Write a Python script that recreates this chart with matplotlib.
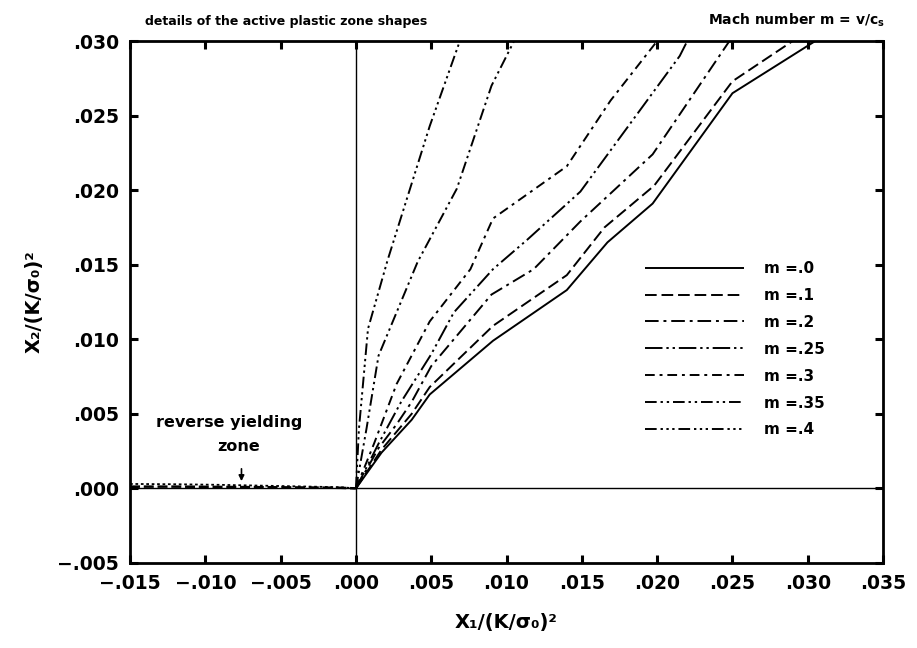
import matplotlib
matplotlib.use("Agg")
import matplotlib.pyplot as plt
from matplotlib.ticker import FixedLocator, FuncFormatter

# Plastic zone boundaries X2 vs X1 (normalised by (K/sigma0)^2) for each Mach number
m0_x = [0, 0.0017, 0.0027, 0.0037, 0.0049, 0.0091, 0.0140, 0.0167, 0.0197, 0.0250, 0.0305]
m0_y = [0, 0.0024, 0.0035, 0.0046, 0.0063, 0.0099, 0.0133, 0.0165, 0.0191, 0.0265, 0.0300]

m1_x = [0, 0.0017, 0.0027, 0.0037, 0.0049, 0.0091, 0.0140, 0.0165, 0.0198, 0.0250, 0.0290]
m1_y = [0, 0.0026, 0.0038, 0.0050, 0.0068, 0.0109, 0.0143, 0.0175, 0.0203, 0.0273, 0.0300]

m2_x = [0, 0.0015, 0.0027, 0.0037, 0.0050, 0.0090, 0.0118, 0.0149, 0.0197, 0.0248]
m2_y = [0, 0.0027, 0.0043, 0.0058, 0.0082, 0.0130, 0.0147, 0.0179, 0.0224, 0.0300]

m25_x = [0, 0.0015, 0.0030, 0.0050, 0.0065, 0.0091, 0.0114, 0.0149, 0.0215, 0.0220]
m25_y = [0, 0.0030, 0.0058, 0.0090, 0.0118, 0.0147, 0.0167, 0.0199, 0.0290, 0.0300]

m3_x = [0, 0.0012, 0.0027, 0.0049, 0.0076, 0.0091, 0.0140, 0.0169, 0.0200]
m3_y = [0, 0.0030, 0.0070, 0.0112, 0.0147, 0.0181, 0.0216, 0.0260, 0.0300]

m35_x = [0, 0.0007, 0.0015, 0.0041, 0.0067, 0.0090, 0.0105]
m35_y = [0, 0.0040, 0.0089, 0.0152, 0.0201, 0.0270, 0.0300]

m4_x = [0, 0.0002, 0.0008, 0.0021, 0.0049, 0.0069]
m4_y = [0, 0.0040, 0.0107, 0.0153, 0.0243, 0.0300]

# Thin reverse yielding zone ahead of the tip (negative X1)
rev_x = [-0.0150, -0.0120, -0.0090, -0.0060, -0.0030, -0.0010, 0.0]
rev_y_lo = [0.00012, 0.00012, 0.00010, 0.00008, 0.00006, 0.00004, 0.0]
rev_y_hi = [0.00030, 0.00028, 0.00024, 0.00018, 0.00012, 0.00008, 0.0]

labels = ["m =.0", "m =.1", "m =.2", "m =.25", "m =.3", "m =.35", "m =.4"]
series = [(m0_x, m0_y), (m1_x, m1_y), (m2_x, m2_y), (m25_x, m25_y),
          (m3_x, m3_y), (m35_x, m35_y), (m4_x, m4_y)]
styles = [
    "-",
    (0, (6, 2.5)),
    (0, (7, 2.5, 1.5, 2.5)),
    (0, (9, 2, 1.2, 2, 1.2, 2)),
    (0, (5, 2.5, 1.5, 2.5)),
    (0, (6, 2, 1.2, 2, 1.2, 2)),
    (0, (6, 2, 1.2, 1.8, 1.2, 1.8, 1.2, 2)),
]

x_ticks = [-0.015, -0.010, -0.005, 0.0, 0.005, 0.010, 0.015, 0.020, 0.025, 0.030, 0.035]
y_ticks = [-0.005, 0.0, 0.005, 0.010, 0.015, 0.020, 0.025, 0.030]

plt.rcParams["font.family"] = ["DejaVu Sans"]
plt.rcParams["font.weight"] = "bold"

fig = plt.figure(figsize=(9.17, 6.48), dpi=100)
ax = fig.add_axes([0.1418, 0.1312, 0.8212, 0.8055])

ax.axvline(0, color="black", lw=1.0, zorder=1)
ax.axhline(0, color="black", lw=1.0, zorder=1)

for (xs, ys), lab, ls in zip(series, labels, styles):
    ax.plot(xs, ys, color="black", lw=1.4, linestyle=ls, label=lab,
            solid_capstyle="butt", dash_capstyle="butt")

ax.plot(rev_x, rev_y_lo, color="black", lw=1.8, linestyle=(0, (4, 1.5)))
ax.plot(rev_x, rev_y_hi, color="black", lw=1.3, linestyle=(0, (1.5, 1.5)))

ax.set_xlim(-0.015, 0.035)
ax.set_ylim(-0.005, 0.030)

def fmt(v, pos=None):
    s = f"{abs(v):.3f}".lstrip("0")
    return ("\u2212" + s) if v < -1e-12 else s

ax.xaxis.set_major_locator(FixedLocator(x_ticks))
ax.yaxis.set_major_locator(FixedLocator(y_ticks))
ax.xaxis.set_major_formatter(FuncFormatter(fmt))
ax.yaxis.set_major_formatter(FuncFormatter(fmt))
ax.tick_params(direction="in", length=6, width=2.2, top=True, right=True,
               labelsize=13.5, pad=8)
for lab in ax.get_xticklabels() + ax.get_yticklabels():
    lab.set_fontweight("bold")
for sp in ax.spines.values():
    sp.set_linewidth(2.0)

ax.set_xlabel("X\u2081/(K/\u03c3\u2080)\u00b2", fontsize=14, fontweight="bold", labelpad=14)
ax.set_ylabel("X\u2082/(K/\u03c3\u2080)\u00b2", fontsize=14, fontweight="bold", labelpad=10)

fig.text(0.158, 0.962, "details of the active plastic zone shapes",
         fontsize=9, fontweight="bold", va="baseline", ha="left")
fig.text(0.965, 0.962, r"Mach number m = v/c$_\mathbf{s}$",
         fontsize=10, fontweight="bold", va="baseline", ha="right")

ax.text(-0.0084, 0.0044, "reverse yielding", fontsize=11.5, fontweight="bold",
        ha="center", va="center")
ax.text(-0.0078, 0.0028, "zone", fontsize=11.5, fontweight="bold",
        ha="center", va="center")
ax.annotate("", xy=(-0.0076, 0.0003), xytext=(-0.0076, 0.0015),
            arrowprops=dict(arrowstyle="-|>", color="black", lw=1.2,
                            mutation_scale=8))

leg = ax.legend(loc="upper left", bbox_to_anchor=(0.665, 0.605), frameon=False,
                handlelength=6.5, handletextpad=1.3, labelspacing=0.78,
                prop=dict(size=11, weight="bold"))

fig.savefig("out.png", dpi=100)
